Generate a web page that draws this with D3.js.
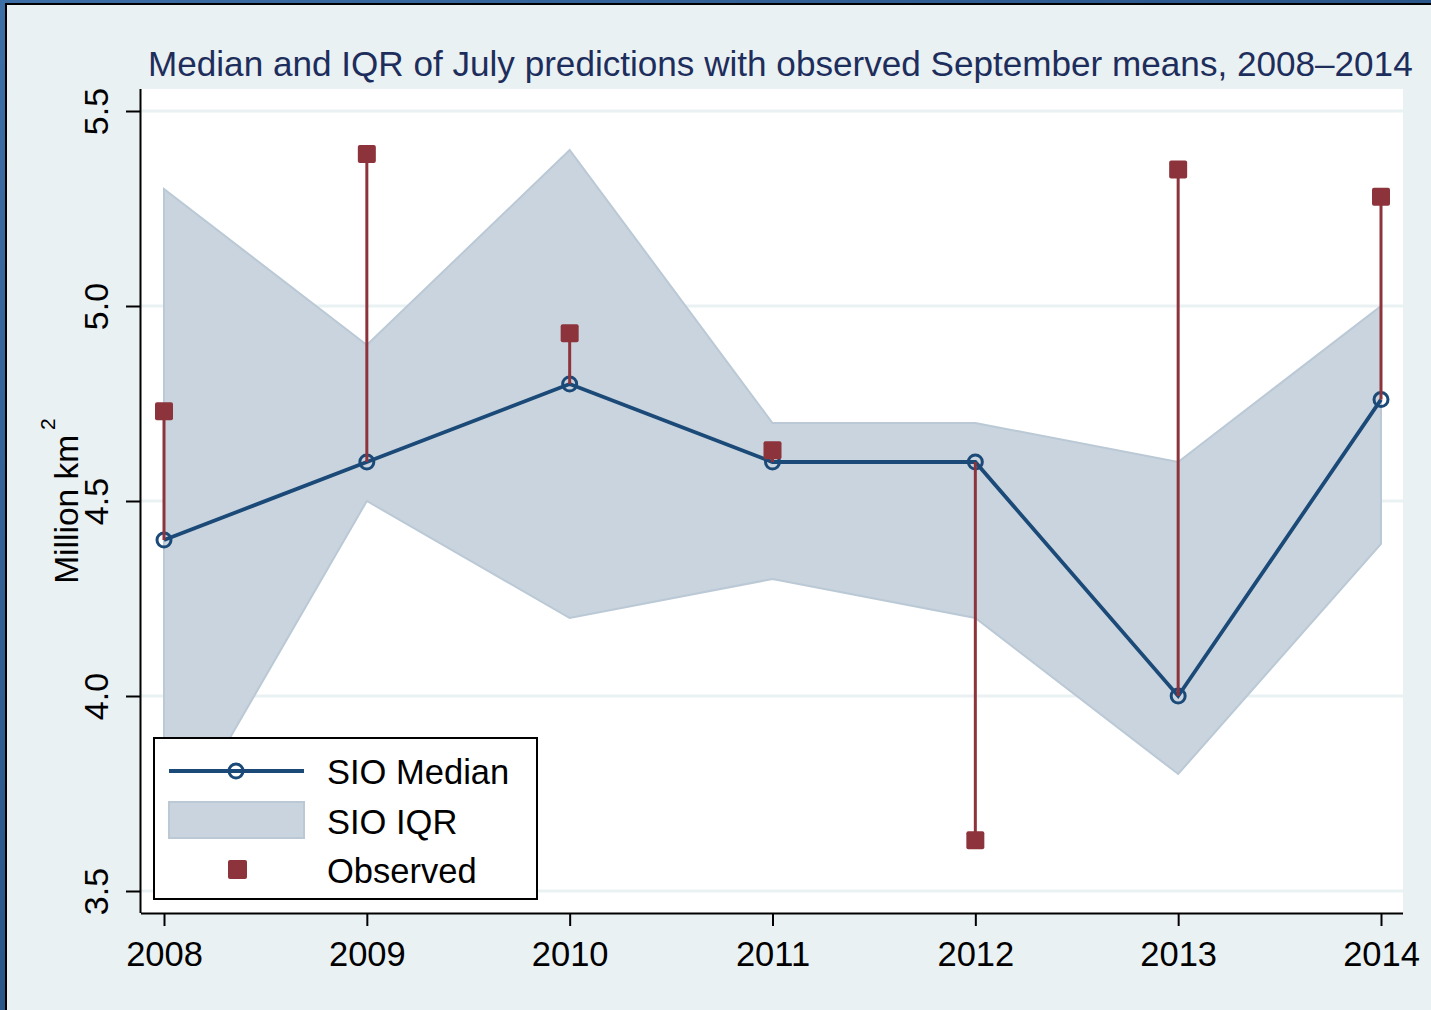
<!DOCTYPE html>
<html>
<head>
<meta charset="utf-8">
<script src="https://cdn.jsdelivr.net/npm/d3@7"></script>
<style>
html,body{margin:0;padding:0;background:#1f4a80;}
svg{display:block;}
text{font-family:"Liberation Sans",Arial,sans-serif;}
</style>
</head>
<body>
<svg id="chart" width="1431" height="1010"></svg>
<script>
const years = [2008, 2009, 2010, 2011, 2012, 2013, 2014];
const median = [4.4, 4.6, 4.8, 4.6, 4.6, 4.0, 4.76];
const iqrLow = [3.6, 4.5, 4.2, 4.3, 4.2, 3.8, 4.39];
const iqrHigh = [5.3, 4.9, 5.4, 4.7, 4.7, 4.6, 5.0];
const observed = [4.73, 5.39, 4.93, 4.63, 3.63, 5.35, 5.28];
const yTicks = [3.5, 4.0, 4.5, 5.0, 5.5];
const title = "Median and IQR of July predictions with observed September means, 2008\u20132014";
const legendLabels = ["SIO Median", "SIO IQR", "Observed"];

const W = 1431, H = 1010;
const C = {
  bg: "#eaf1f3", plot: "#ffffff", grid: "#eaf1f3",
  band: "#c9d4de", bandEdge: "#bac9d5",
  med: "#1b4a78", obs: "#8d333b", title: "#1e2e5c"
};
const svg = d3.select("#chart");

// frame
const defs = svg.append("defs");
const grad = defs.append("linearGradient").attr("id","fr").attr("x1","0").attr("y1","0").attr("x2","1").attr("y2","1");
grad.append("stop").attr("offset","0").attr("stop-color","#3d6ea5");
grad.append("stop").attr("offset","1").attr("stop-color","#173d6e");
svg.append("rect").attr("width",W).attr("height",H).attr("fill","url(#fr)");
svg.append("rect").attr("x",5).attr("y",3).attr("width",W-5).attr("height",H-3).attr("fill","#000");
svg.append("rect").attr("x",7).attr("y",5).attr("width",W-7).attr("height",H-5).attr("fill",C.bg);

const plot = {left:141, right:1403, top:89, bottom:913};
const x = d3.scaleLinear().domain([2008, 2014]).range([164, 1381]);
const y = d3.scaleLinear().domain([3.5, 5.5]).range([891, 111]);

svg.append("rect").attr("x",plot.left).attr("y",plot.top)
  .attr("width",plot.right-plot.left).attr("height",plot.bottom-plot.top).attr("fill",C.plot);

// grid
svg.append("g").selectAll("line").data(yTicks).join("line")
  .attr("x1",plot.left).attr("x2",plot.right)
  .attr("y1",d=>y(d)).attr("y2",d=>y(d))
  .attr("stroke",C.grid).attr("stroke-width",3);

// IQR band
const data = years.map((yr,i)=>({yr, med:median[i], lo:iqrLow[i], hi:iqrHigh[i], obs:observed[i]}));
const area = d3.area().x(d=>x(d.yr)).y0(d=>y(d.lo)).y1(d=>y(d.hi));
svg.append("path").datum(data).attr("d",area)
  .attr("fill",C.band).attr("stroke",C.bandEdge).attr("stroke-width",2).attr("stroke-linejoin","miter");

// median line
const line = d3.line().x(d=>x(d.yr)).y(d=>y(d.med));
svg.append("path").datum(data).attr("d",line)
  .attr("fill","none").attr("stroke",C.med).attr("stroke-width",3.8);
svg.append("g").selectAll("circle").data(data).join("circle")
  .attr("cx",d=>x(d.yr)).attr("cy",d=>y(d.med)).attr("r",7)
  .attr("fill","none").attr("stroke",C.med).attr("stroke-width",3);

// spikes
svg.append("g").selectAll("line").data(data).join("line")
  .attr("x1",d=>x(d.yr)).attr("x2",d=>x(d.yr))
  .attr("y1",d=>y(d.med)).attr("y2",d=>y(d.obs))
  .attr("stroke",C.obs).attr("stroke-width",3);
svg.append("g").selectAll("rect").data(data).join("rect")
  .attr("x",d=>x(d.yr)-9).attr("y",d=>y(d.obs)-9).attr("width",18).attr("height",18).attr("rx",2)
  .attr("fill",C.obs);

// axes
const yAxis = svg.append("g").attr("transform",`translate(${plot.left},0)`)
  .call(d3.axisLeft(y).tickValues(yTicks).tickSize(15).tickFormat(d3.format(".1f")));
yAxis.select(".domain").attr("d",`M-0.5,${plot.top}V${plot.bottom}`).attr("stroke","#000").attr("stroke-width",2);
yAxis.selectAll(".tick line").attr("stroke","#000").attr("stroke-width",2);
yAxis.selectAll(".tick text")
  .attr("x",null).attr("dy",null)
  .attr("transform","translate(-33,0) rotate(-90)")
  .attr("text-anchor","middle")
  .attr("font-size",34).attr("font-family","'Liberation Sans',Arial,sans-serif").attr("fill","#000");

const xAxis = svg.append("g").attr("transform",`translate(0,${plot.bottom})`)
  .call(d3.axisBottom(x).tickValues(years).tickSize(13).tickFormat(d3.format("d")));
xAxis.select(".domain").attr("d",`M${plot.left},0.5H${plot.right}`).attr("stroke","#000").attr("stroke-width",2);
xAxis.selectAll(".tick line").attr("stroke","#000").attr("stroke-width",2);
xAxis.selectAll(".tick text").attr("y",null).attr("dy",null)
  .attr("transform","translate(0,53)")
  .attr("font-size",34.5).attr("font-family","'Liberation Sans',Arial,sans-serif").attr("fill","#000");

// y title
const yt = svg.append("text")
  .attr("transform",`translate(78,${(plot.top+plot.bottom)/2}) rotate(-90)`)
  .attr("text-anchor","middle").attr("font-size",33.5).attr("fill","#000");
yt.append("tspan").text("Million km");
yt.append("tspan").text("2").attr("font-size",21).attr("dx",5).attr("dy",-23);

// title
const tt = svg.append("text").attr("x",148).attr("y",76).attr("font-size",32).attr("fill",C.title).text(title);
const tw = tt.node().getComputedTextLength();
tt.attr("font-size", 32*1265/tw);

// legend
const lg = svg.append("g");
lg.append("rect").attr("x",154).attr("y",738).attr("width",383).attr("height",161)
  .attr("fill","#fff").attr("stroke","#000").attr("stroke-width",2);
lg.append("line").attr("x1",169).attr("x2",304).attr("y1",771).attr("y2",771)
  .attr("stroke",C.med).attr("stroke-width",3.8);
lg.append("circle").attr("cx",236).attr("cy",771).attr("r",7)
  .attr("fill","none").attr("stroke",C.med).attr("stroke-width",3);
lg.append("rect").attr("x",169).attr("y",802).attr("width",135).attr("height",36)
  .attr("fill",C.band).attr("stroke",C.bandEdge).attr("stroke-width",2);
lg.append("rect").attr("x",228).attr("y",860).attr("width",19).attr("height",19).attr("rx",2).attr("fill",C.obs);
lg.selectAll("text.lt").data(legendLabels).join("text").attr("class","lt")
  .attr("x",327).attr("y",(d,i)=>784+i*49.5)
  .attr("font-size",34.5).attr("fill","#000").text(d=>d);
</script>
</body>
</html>
